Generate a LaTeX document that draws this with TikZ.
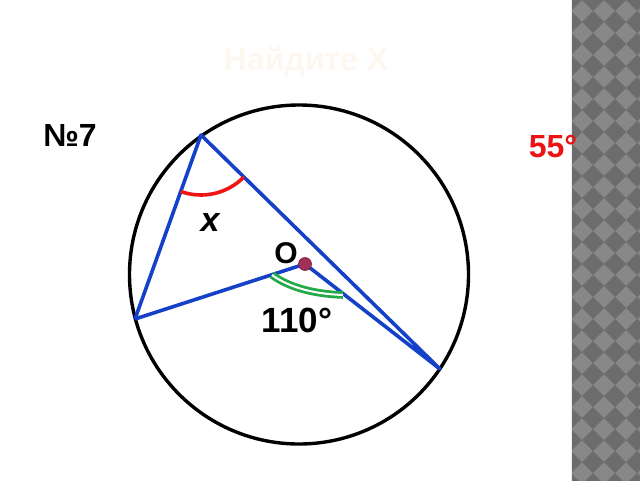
\documentclass[tikz,border=0pt]{standalone}
\usepackage{fontspec}
\setmainfont{Liberation Sans}
\definecolor{lineblue}{RGB}{21,64,200}
\definecolor{markred}{RGB}{240,20,20}
\definecolor{txtred}{RGB}{235,20,20}
\definecolor{markgreen}{RGB}{34,170,70}
\definecolor{stripl}{RGB}{136,136,136}
\definecolor{stripd}{RGB}{108,108,108}
\definecolor{titlec}{RGB}{254,247,240}
\definecolor{dotfill}{RGB}{160,48,90}
\definecolor{dotedge}{RGB}{120,30,60}
\begin{document}
\begin{tikzpicture}[x=1pt,y=-1pt,
  blueline/.style={draw=lineblue,line width=3.6pt},
  circ/.style={draw=black,line width=3.4pt},
  redarc/.style={draw=markred,line width=3.6pt},
  greenarc/.style={draw=markgreen,line width=2.8pt,double=white,double distance=2pt},
  lbl/.style={font=\bfseries\fontsize{32}{34}\selectfont,inner sep=0pt}]
\useasboundingbox (0,0) rectangle (640,480);
\fill[white] (0,0) rectangle (640,480);
% checkered strip
\begin{scope}
\clip (571,-6) rectangle (646,486);
\fill[stripl] (571,-6) rectangle (646,486);
\foreach \i in {0,...,4}{
  \foreach \j in {0,...,22}{
    \fill[stripd] (571+22*\i,22*\j) ++(-11,0) -- ++(11,-11) -- ++(11,11) -- ++(-11,11) -- cycle;
  }
}
\end{scope}
\draw[white!85!gray,line width=1pt] (571.5,-6) -- (571.5,486);
% title
\node[lbl,text=titlec] (title) at (306,62) {Найдите Х};
% labels
\node[lbl] (num) at (70,135) {№7};
\node[lbl,text=txtred] (ans) at (553,147) {55°};
% circle
\coordinate (Oc) at (299,274.5);
\draw[circ] (Oc) circle[radius=169.5];
% points
\coordinate (A) at (201,135);
\coordinate (B) at (135,319);
\coordinate (C) at (440,369);
\coordinate (O) at (305,264);
\draw[blueline,line join=round] (B) -- (A) -- (C) -- (O) -- (B);
% angle marks
\draw[redarc] (A) ++(44.4:60) arc[start angle=44.4,end angle=109.7,radius=60];
\coordinate (g1) at (272,275);
\coordinate (g2) at (343,295);
\draw[greenarc] (g1) .. controls (290,288) and (315,294) .. (g2);
\fill[dotfill,draw=dotedge,line width=0.6pt] (O) circle[radius=6.5];
% text labels
\node[lbl,font=\bfseries\itshape\fontsize{34}{36}\selectfont] (x) at (210,223) {x};
\node[lbl,font=\bfseries\fontsize{30}{32}\selectfont] (o) at (286,253) {O};
\node[lbl,font=\bfseries\fontsize{35}{37}\selectfont] (ang) at (297,320) {110°};
\end{tikzpicture}
\end{document}
